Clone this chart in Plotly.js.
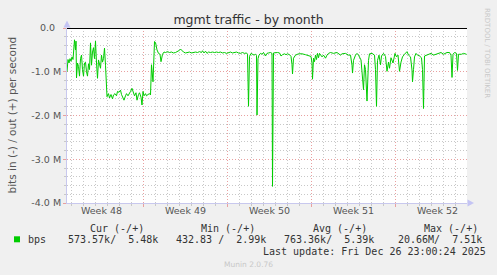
<!DOCTYPE html>
<html><head><meta charset="utf-8">
<script src="https://cdn.plot.ly/plotly-3.0.1.min.js"></script>
<style>html,body{margin:0;padding:0;background:#f0f0f0;overflow:hidden}#chart{width:497px;height:275px}</style>
</head><body><div id="chart"></div>
<script>
// ---- data ----
const rangeStart = '2025-11-23 15:00:00';
const rangeEnd = '2025-12-26 23:00:00';
const hoursFromStart = [
0,2,4,6,8,10,12,14,15,17,18,19,21,23,25,27,29,31,33,35,37,39,41,43,45,47,49,51,53,55,57,59,61,63,65,67,69,71,73,75,77,79,
80,83,85,88,91,93,96,99,101,104,107,109,112,114,117,119,122,125,127,130,133,135,138,140,143,145,148,150,152,154,157,159,162,165,167,169,172,175,177,180,183,186,188,191,194,
197,201,205,209,213,217,221,225,227,230,233,237,241,245,249,253,257,261,265,269,271,274,277,280,283,287,291,295,299,303,307,311,315,319,323,327,331,335,339,343,347,351,355,359,361,363,
365,368,371,374,377,379,380,382,384,387,390,393,397,400,403,407,410,411,413,417,421,425,428,431,435,438,441,445,448,450,451,453,457,463,470,477,483,488,490,491,493,495,497,499,501,503,505,
507,510,513,517,520,523,527,533,540,543,547,550,557,563,567,570,571,573,577,580,583,588,591,593,595,597,600,603,605,610,615,617,619,621,624,627,629,633,637,640,643,645,648,652,656,659,662,665,668,671,675,
680,683,687,690,691,693,695,698,701,705,709,711,713,715,719,723,728,733,739,743,748,753,760,765,768,770,772,775,779,781,783,789,793,799
];
const bitsInMbps = [
-1.00,-0.72,-0.80,-0.70,-0.76,-0.66,-0.72,-0.40,-0.27,-0.50,-0.30,-1.14,-0.80,-0.88,-1.10,-0.70,-0.62,-0.95,-1.10,-0.80,-0.78,-1.00,-1.10,-0.82,-0.95,-0.34,-0.85,-0.55,-0.45,-0.70,-0.30,-0.80,-1.15,-0.73,-0.85,-0.92,-0.62,-0.78,-0.70,-0.46,-0.85,-1.49,
-1.57,-1.50,-1.60,-1.52,-1.62,-1.53,-1.50,-1.55,-1.45,-1.47,-1.42,-1.52,-1.58,-1.65,-1.55,-1.50,-1.55,-1.50,-1.45,-1.38,-1.50,-1.55,-1.48,-1.65,-1.52,-1.48,-1.58,-1.76,-1.45,-1.55,-1.50,-1.55,-1.52,-1.50,-1.53,-0.84,-1.23,-0.31,-0.33,-0.50,-0.58,-0.60,-0.77,-0.60,-0.55,
-0.56,-0.54,-0.56,-0.55,-0.57,-0.56,-0.54,-0.51,-0.48,-0.53,-0.55,-0.57,-0.56,-0.55,-0.57,-0.56,-0.55,-0.56,-0.54,-0.56,-0.52,-0.57,-0.53,-0.58,-0.55,-0.56,-0.55,-0.56,-0.55,-0.56,-0.55,-0.57,-0.56,-0.58,-0.56,-0.55,-0.57,-0.56,-0.55,-0.57,-0.58,-0.56,-0.58,-0.57,-0.60,-1.79,
-0.65,-0.58,-0.60,-0.62,-0.60,-0.63,-1.99,-0.70,-0.62,-0.58,-0.60,-0.56,-0.64,-0.58,-0.57,-0.56,-0.58,-3.62,-0.57,-0.56,-0.56,-0.57,-0.64,-0.61,-0.59,-0.61,-0.59,-0.61,-0.65,-0.84,-1.05,-0.69,-0.62,-0.59,-0.59,-0.61,-0.64,-0.65,-0.80,-1.17,-0.69,-0.77,-0.62,-0.72,-0.58,-0.68,-0.58,
-0.62,-0.66,-0.62,-0.69,-0.62,-0.58,-0.56,-0.58,-0.56,-0.59,-0.62,-0.59,-0.58,-0.62,-0.62,-0.85,-1.03,-0.74,-0.62,-0.58,-0.62,-0.73,-1.10,-1.41,-0.84,-0.95,-1.67,-0.74,-0.59,-0.58,-0.62,-0.95,-1.79,-0.74,-0.62,-0.84,-0.64,-0.58,-0.65,-0.99,-0.78,-0.92,-0.68,-0.80,-0.58,-0.66,-0.62,-0.99,-0.78,-0.66,-0.60,
-0.54,-0.62,-0.66,-0.96,-1.23,-0.95,-0.66,-0.58,-0.62,-0.64,-0.68,-0.95,-1.84,-0.64,-0.62,-0.60,-0.58,-0.62,-0.60,-0.58,-0.56,-0.60,-0.56,-0.56,-0.62,-1.13,-0.60,-0.56,-0.58,-0.97,-0.60,-0.60,-0.58,-0.60
];
const weekStarts = ['2025-11-30','2025-12-07','2025-12-14','2025-12-21'];
const weekLabelDates = ['2025-11-26 12:00','2025-12-03 12:00','2025-12-10 12:00','2025-12-17 12:00','2025-12-24 12:00'];
const weekLabels = ['Week 48','Week 49','Week 50','Week 51','Week 52'];
const yTickVals = [0,-1e6,-2e6,-3e6,-4e6];
const yTickText = ['0.0\u00a0\u00a0','-1.0 M','-2.0 M','-3.0 M','-4.0 M'];
const seriesName = 'bps';
const legendHeaders = ['Cur (-/+)','Min (-/+)','Avg (-/+)','Max (-/+)'];
const legendValues = ['573.57k/  5.48k','432.83 /  2.99k','763.36k/  5.39k','20.66M/  7.51k'];
const lastUpdate = 'Last update: Fri Dec 26 23:00:24 2025';
const titleText = 'mgmt traffic - by month';
const yTitle = 'bits in (-) / out (+) per second';
const watermark = 'RRDTOOL / TOBI OETIKER';
const footer = 'Munin 2.0.76';

// ---- build ----
const startMs = Date.parse(rangeStart.replace(' ','T') + 'Z');
const endMs = Date.parse(rangeEnd.replace(' ','T') + 'Z');
const fmt = ms => new Date(ms).toISOString().replace('T',' ').slice(0,19);
const xDates = hoursFromStart.map(h => fmt(startMs + h*3600000));
const yBits = bitsInMbps.map(v => v*1e6);

// minor grid positions: every day / every 0.2 M, skipping the major lines
const DAY = 86400000;
const weekMs = weekStarts.map(d => Date.parse(d + 'T00:00:00Z'));
const minorX = [];
for (let t = weekMs[0] - 7*DAY; t <= endMs; t += DAY) {
  if (t >= startMs && !weekMs.includes(t)) minorX.push(fmt(t));
}
const minorY = [];
for (let k = 1; k < 20; k++) if (k % 5) minorY.push(-k*2e5);

// pixel helpers (plot area: x 67..467, y 28..203)
const W = 497, H = 275, L = 67, R = 30, T = 28, B = 72;
const pw = W - L - R, ph = H - T - B;
const ax = p => (p - L)/pw;
const ay = p => (H - B - p)/ph;
const nb = s => s.replace(/ /g,'\u00a0');

const mono = {family:'DejaVu Sans Mono', size:10, color:'#333'};
const sans = 'DejaVu Sans';
const gridMinor = '#c8c8c8';
const gridMajor = '#e8a0a0';
const dash = '1px,2px';

const annotations = [];
function txt(text, x, y, font, opts) {
  annotations.push(Object.assign({text: text, xref:'paper', yref:'paper', x: ax(x), y: ay(y),
    xanchor:'left', yanchor:'middle', showarrow:false, borderpad:0, font: font}, opts||{}));
}
const headerX = [89, 200, 311.7, 422.7];
const valueX = [66.7, 175, 283.3, 397.3];
legendHeaders.forEach((h,i) => txt(nb(h), headerX[i], 228, mono));
txt(seriesName, 26.7, 239.5, mono);
legendValues.forEach((v,i) => txt(nb(v), valueX[i], 239.5, mono));
txt(nb(lastUpdate), 261.7, 251, mono);
txt(footer, 248, 264, {family:sans, size:7.5, color:'#c8c8c8'}, {xanchor:'center'});
txt(watermark, 487, 53, {family:sans, size:7, color:'#c8c8c8'}, {xanchor:'center', textangle:90});
txt(yTitle, 11, 115.5, {family:sans, size:10.5, color:'#555'}, {xanchor:'center', textangle:-90});

const arrowColor = '#c4c4f4';
const shapes = [
  {type:'path', xref:'paper', yref:'paper', fillcolor:arrowColor, line:{width:0},
   path:`M ${ax(63.5)},${ay(27.5)} L ${ax(67)},${ay(20.5)} L ${ax(70.5)},${ay(27.5)} Z`},
  {type:'path', xref:'paper', yref:'paper', fillcolor:arrowColor, line:{width:0},
   path:`M ${ax(467.5)},${ay(199.5)} L ${ax(474)},${ay(203)} L ${ax(467.5)},${ay(206.5)} Z`},
  {type:'rect', xref:'paper', yref:'paper', fillcolor:'#00cc00', line:{width:0},
   x0: ax(14), x1: ax(20), y0: ay(242.3), y1: ay(236.3)}
];

const traces = [
  {type:'scatter', mode:'lines', x:xDates, y:yBits, name:seriesName, xaxis:'x', yaxis:'y',
   line:{color:'#00cc00', width:1}, hoverinfo:'skip', showlegend:false},
  {type:'scatter', mode:'lines', x:[], y:[], xaxis:'x2', yaxis:'y2', showlegend:false, hoverinfo:'skip'},
  {type:'scatter', mode:'lines', x:[], y:[], xaxis:'x3', yaxis:'y', showlegend:false, hoverinfo:'skip'}
];

const noLabels = {showticklabels:false, fixedrange:true, zeroline:false};
const layout = {
  width: W, height: H,
  margin: {l:L, r:R, t:T, b:B, pad:0},
  paper_bgcolor:'#f0f0f0', plot_bgcolor:'#ffffff',
  showlegend:false,
  title: {text:titleText, font:{family:sans, size:12.5, color:'#333'},
          xref:'container', yref:'container', x:0.5, xanchor:'center', y:1-20/H, yanchor:'middle'},
  xaxis: Object.assign({type:'date', range:[rangeStart, rangeEnd],
          tickmode:'array', tickvals:weekStarts, showgrid:true, gridcolor:gridMajor, griddash:dash, gridwidth:1,
          ticks:'outside', ticklen:3, tickcolor:gridMajor,
          showline:true, linecolor:'#c8c8ee', linewidth:1}, noLabels),
  xaxis2: Object.assign({type:'date', overlaying:'x', anchor:'y', side:'bottom', range:[rangeStart, rangeEnd],
          tickmode:'array', tickvals:minorX,
          showgrid:true, gridcolor:gridMinor, griddash:dash, gridwidth:1,
          ticks:'outside', ticklen:2, tickcolor:gridMinor, showline:false}, noLabels),
  xaxis3: {type:'date', overlaying:'x', anchor:'y', side:'bottom', range:[rangeStart, rangeEnd],
           tickmode:'array', tickvals:weekLabelDates, ticktext:weekLabels, ticks:'', showgrid:false,
           zeroline:false, showline:false, tickfont:{family:sans, size:9.5, color:'#555'}, fixedrange:true},
  yaxis: {range:[-4e6, 0], tickmode:'array', tickvals:yTickVals, ticktext:yTickText,
          tickfont:{family:sans, size:9.5, color:'#555'},
          showgrid:true, gridcolor:gridMajor, griddash:dash, gridwidth:1,
          ticks:'outside', ticklen:3, tickcolor:gridMajor,
          zeroline:true, zerolinecolor:'#000', zerolinewidth:1,
          showline:true, linecolor:'#c8c8ee', linewidth:1, fixedrange:true},
  yaxis2: Object.assign({overlaying:'y', anchor:'x', side:'left', range:[-4e6, 0], tickmode:'array', tickvals:minorY,
          showgrid:true, gridcolor:gridMinor, griddash:dash, gridwidth:1,
          ticks:'outside', ticklen:2, tickcolor:gridMinor, showline:false}, noLabels),
  annotations: annotations,
  shapes: shapes
};

Plotly.newPlot('chart', traces, layout, {displayModeBar:false, staticPlot:true});
</script>
</body></html>
